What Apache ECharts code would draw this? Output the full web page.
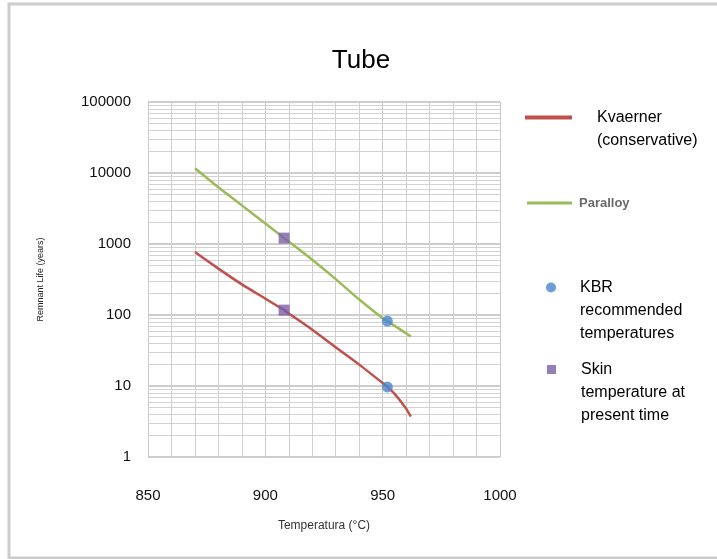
<!DOCTYPE html>
<html>
<head>
<meta charset="utf-8">
<title>Tube</title>
<script src="https://cdn.jsdelivr.net/npm/echarts@6/dist/echarts.min.js"></script>
<style>
  html, body { margin: 0; padding: 0; background: #fff; }
  #chart { width: 717px; height: 559px; }
</style>
</head>
<body>
<div id="chart"></div>
<script>
// Remnant life curves (years) against tube temperature (°C)
const kvaernerTemps  = [870, 880, 890, 900, 908, 910, 920, 930, 940, 950, 952, 955, 960, 962];
const kvaernerLife   = [770, 450, 270, 170, 117, 105, 62, 35, 20, 11, 9.7, 7.8, 4.8, 3.7];
const paralloyTemps  = [870, 880, 890, 900, 908, 910, 920, 930, 940, 950, 952, 962];
const paralloyLife   = [11700, 6300, 3500, 1950, 1210, 1080, 600, 320, 165, 90, 82, 50];
const kbrTemps       = [952, 952];
const kbrLife        = [82, 9.7];
const skinTemps      = [908, 908];
const skinLife       = [1210, 117];

const seriesNames = ['Kvaerner (conservative)', 'Paralloy', 'KBR recommended temperatures', 'Skin temperature at present time'];
// leading blank lines keep the first text line level with the legend icon
const legendLabels = ['\nKvaerner\n(conservative)', 'Paralloy', '\n\nKBR\nrecommended\ntemperatures', '\n\nSkin\ntemperature at\npresent time'];
const yTickValues = [1, 10, 100, 1000, 10000, 100000];

const colors = { red: '#c0504d', green: '#9bbb59', blue: '#4a86d0', purple: '#7a5ea8' };

// minor log gridlines (2..9 within each decade)
const minorGrid = [];
for (let d = 0; d < yTickValues.length - 1; d++) {
  for (let m = 2; m <= 9; m++) minorGrid.push({ yAxis: yTickValues[d] * m });
}

const pair = (xs, ys) => xs.map((x, i) => [x, ys[i]]);
const fmt = {};
seriesNames.forEach((n, i) => { fmt[n] = legendLabels[i]; });

const chart = echarts.init(document.getElementById('chart'), null, { renderer: 'canvas' });

const FONT = 'Liberation Sans, Arial, sans-serif';
const legendText = { fontFamily: FONT, fontSize: 16, color: '#000', lineHeight: 23 };

chart.setOption({
  animation: false,
  backgroundColor: '#fff',
  title: {
    text: 'Tube',
    left: 356, top: 43, textAlign: 'center',
    textStyle: { fontFamily: FONT, fontSize: 26, fontWeight: 'normal', color: '#000' }
  },
  graphic: [{
    type: 'rect', silent: true, z: 100,
    shape: { x: 9, y: 4, width: 730, height: 554 },
    style: { fill: 'none', stroke: '#cccccc', lineWidth: 3 }
  }],
  grid: { left: 148, right: 217, top: 102, bottom: 102 },
  xAxis: {
    type: 'value', min: 850, max: 1000, interval: 50,
    name: 'Temperatura (°C)', nameLocation: 'middle', nameGap: 63,
    nameTextStyle: { fontFamily: FONT, fontSize: 12, color: '#333' },
    axisLine: { show: false }, axisTick: { show: false },
    axisLabel: { margin: 31, fontFamily: FONT, fontSize: 15, color: '#111', formatter: v => String(v) },
    splitLine: { show: true, lineStyle: { color: '#c8c8c8', width: 1 } },
    minorTick: { show: false, splitNumber: 5 },
    minorSplitLine: { show: true, lineStyle: { color: '#cfcfcf', width: 1 } }
  },
  yAxis: {
    type: 'log', logBase: 10, min: 1, max: 100000,
    name: 'Remnant Life (years)', nameLocation: 'middle', nameGap: 103, nameRotate: 90,
    nameTextStyle: { fontFamily: FONT, fontSize: 9, color: '#222' },
    axisLine: { show: false }, axisTick: { show: false },
    axisLabel: { margin: 17, fontFamily: FONT, fontSize: 15, color: '#111', formatter: v => String(v) },
    splitLine: { show: true, lineStyle: { color: '#bdbdbd', width: 1.5 } }
  },
  legend: [
    {
      data: [{ name: seriesNames[0], icon: 'rect' }], left: 525, top: 83, padding: 0,
      itemWidth: 47, itemHeight: 4, formatter: n => fmt[n],
      textStyle: Object.assign({}, legendText, { padding: [0, 0, 0, 20] })
    },
    {
      data: [{ name: seriesNames[1], icon: 'rect' }], left: 527, top: 196, padding: 0,
      itemWidth: 45, itemHeight: 3, formatter: n => fmt[n],
      textStyle: { fontFamily: FONT, fontSize: 13, fontWeight: 'bold', color: '#6a6a6a', lineHeight: 14, padding: [0, 0, 0, 2] }
    },
    {
      data: [{ name: seriesNames[2], icon: 'circle' }], left: 546, top: 230, padding: 0,
      itemWidth: 10, itemHeight: 10, formatter: n => fmt[n],
      textStyle: Object.assign({}, legendText, { padding: [0, 0, 0, 19] })
    },
    {
      data: [{ name: seriesNames[3], icon: 'rect' }], left: 547, top: 312, padding: 0,
      itemWidth: 9, itemHeight: 9, formatter: n => fmt[n],
      textStyle: Object.assign({}, legendText, { padding: [0, 0, 0, 20] })
    }
  ],
  series: [
    {
      name: seriesNames[0], type: 'line', data: pair(kvaernerTemps, kvaernerLife),
      smooth: 0.2, showSymbol: false, symbol: 'none',
      lineStyle: { color: colors.red, width: 2.5 }, itemStyle: { color: colors.red }, z: 3,
      markLine: {
        silent: true, symbol: 'none', animation: false, z: 1,
        label: { show: false },
        lineStyle: { type: 'solid', color: '#d2d2d2', width: 1 },
        data: minorGrid
      }
    },
    {
      name: seriesNames[1], type: 'line', data: pair(paralloyTemps, paralloyLife),
      smooth: 0.2, showSymbol: false, symbol: 'none',
      lineStyle: { color: colors.green, width: 2.5 }, itemStyle: { color: colors.green }, z: 3
    },
    {
      name: seriesNames[2], type: 'scatter', data: pair(kbrTemps, kbrLife),
      symbol: 'circle', symbolSize: 11, itemStyle: { color: colors.blue }, z: 5
    },
    {
      name: seriesNames[3], type: 'scatter', data: pair(skinTemps, skinLife),
      symbol: 'rect', symbolSize: 11, itemStyle: { color: colors.purple }, z: 5
    }
  ]
});
</script>
</body>
</html>
